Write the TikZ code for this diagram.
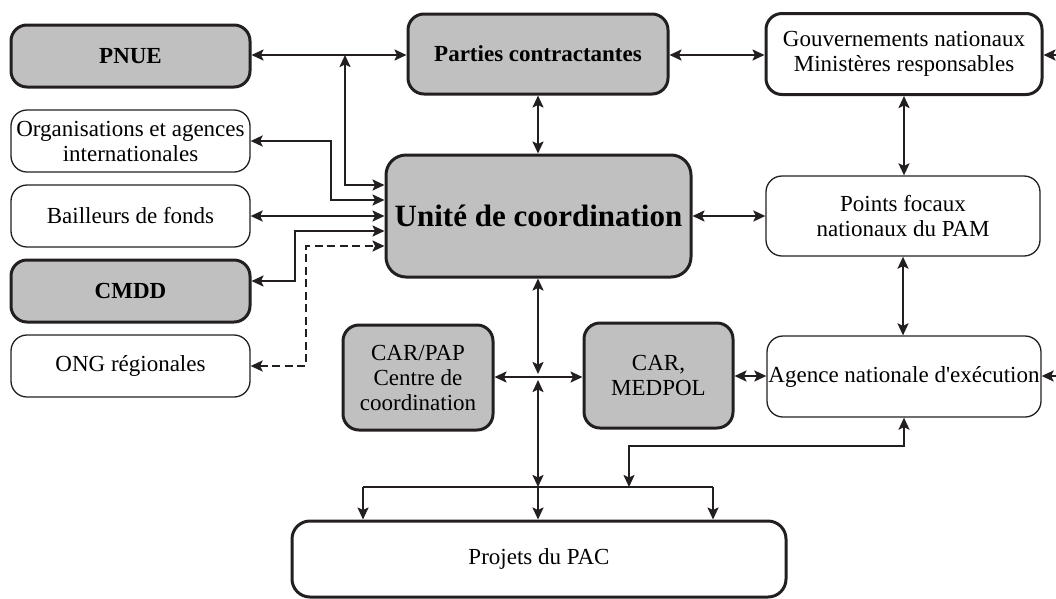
\documentclass[tikz,border=0pt]{standalone}
\usepackage{fontspec}
\setmainfont{Liberation Serif}
\usetikzlibrary{arrows.meta}

\definecolor{linecol}{HTML}{231F20}
\definecolor{boxgrey}{HTML}{C0C0C0}

\begin{document}
\begin{tikzpicture}[x=1pt,y=-1pt,font=\fontsize{23}{25}\selectfont,
  >={Stealth[length=12pt,width=11pt,inset=2.5pt]},
  box/.style={draw=linecol,rounded corners=16pt,align=center,inner sep=0pt},
  greybox/.style={box,fill=boxgrey,line width=3pt},
  whitebox/.style={box,fill=white,line width=3pt},
  thinbox/.style={box,fill=white,line width=1.3pt},
  link/.style={draw=linecol,line width=2pt}]

\useasboundingbox (0,0) rectangle (1056,598);

\def\lx{130.5} \def\mx{538.5} \def\rx{904}
\def\ay{56} \def\by{141} \def\cy{216} \def\dy{291} \def\ey{366}

% left column
\node [greybox,minimum width=239pt,minimum height=62pt] (pnue) at (\lx,\ay) {\textbf{PNUE}};
\node [thinbox,minimum width=239pt,minimum height=62pt] (org) at (\lx,\by) {Organisations et agences\\internationales};
\node [thinbox,minimum width=239pt,minimum height=62pt] (bail) at (\lx,\cy) {Bailleurs de fonds};
\node [greybox,minimum width=239pt,minimum height=62pt] (cmdd) at (\lx,\dy) {\textbf{CMDD}};
\node [thinbox,minimum width=239pt,minimum height=62pt] (ong) at (\lx,\ey) {ONG régionales};

% middle column
\node [greybox,minimum width=260pt,minimum height=80pt] (parties) at (538,54) {\textbf{Parties contractantes}};
\node [greybox,rounded corners=20pt,minimum width=305pt,minimum height=122pt,font=\fontsize{31}{34}\selectfont\bfseries] (unite) at (\mx,\cy) {Unité de coordination};
\node [greybox,minimum width=150pt,minimum height=105pt] (carpap) at (418,377.5) {CAR/PAP\\Centre de\\coordination};
\node [greybox,minimum width=149pt,minimum height=105pt] (medpol) at (658.5,375.5) {CAR,\\MEDPOL};
\node [whitebox,rounded corners=18pt,minimum width=494pt,minimum height=76pt] (pac) at (539,559) {Projets du PAC};

% right column
\node [whitebox,minimum width=276pt,minimum height=81pt] (gouv) at (\rx,54) {Gouvernements nationaux\\Ministères responsables};
\node [thinbox,minimum width=274pt,minimum height=80pt] (points) at (903,\cy) {Points focaux\\nationaux du PAM};
\node [thinbox,minimum width=274pt,minimum height=81pt] (agence) at (\rx,376.5) {Agence nationale d\textquotesingle exécution};

\coordinate (jp) at (345,55);
\coordinate (cross) at (538,377);
\coordinate (bus) at (538,487);
\coordinate (busl) at (363,487);
\coordinate (busr) at (713,487);
\coordinate (busa) at (629,487);
\coordinate (rg) at (1056,55);
\coordinate (ra) at (1056,376);

% links to the left column
\draw [link,<->] (pnue.east |- jp) -- (parties.west |- jp);
\draw [link,<->] (jp) |- ([yshift=31pt]unite.west);
\draw [link,<->] (org.east) -- ++(80,0) |- ([yshift=16pt]unite.west);
\draw [link,<->] (bail.east) -- (unite.west);
\draw [link,<->] ([yshift=10pt]cmdd.east) -- ++(43,0) |- ([yshift=-15pt]unite.west);
\draw [link,<->,dash pattern=on 8pt off 4.5pt] (ong.east) -- ++(55,0) |- ([yshift=-30pt]unite.west);

% links to the right column
\draw [link,<->] (parties.east |- jp) -- (gouv.west |- jp);
\draw [link,<->] (parties.south) -- (parties.south |- unite.north);
\draw [link,<->] (unite.east) -- (points.west);
\draw [link,<->] (gouv.south) -- (gouv.south |- points.north);
\draw [link,<->] (points.south) -- (points.south |- agence.north);
\draw [link,<->] (medpol.east |- ra) -- (agence.west |- ra);
\draw [link,->] (rg) -- (gouv.east |- rg);
\draw [link,->] (ra) -- (agence.east |- ra);

% links down to the projects
\draw [link,<->,shorten >=3pt] (unite.south -| cross) -- (cross);
\draw [link,<->] (carpap.east |- cross) -- (medpol.west |- cross);
\draw [link,<->,shorten >=3pt] (bus) -- (cross);
\draw [link,->] (bus) -- (bus |- pac.north);
\draw [link] (busl) -- (busr);
\draw [link,->] (busl) -- (busl |- pac.north);
\draw [link,->] (busr) -- (busr |- pac.north);
\draw [link,<->] (agence.south) -- ++(0,28) -| (busa);
\end{tikzpicture}
\end{document}
